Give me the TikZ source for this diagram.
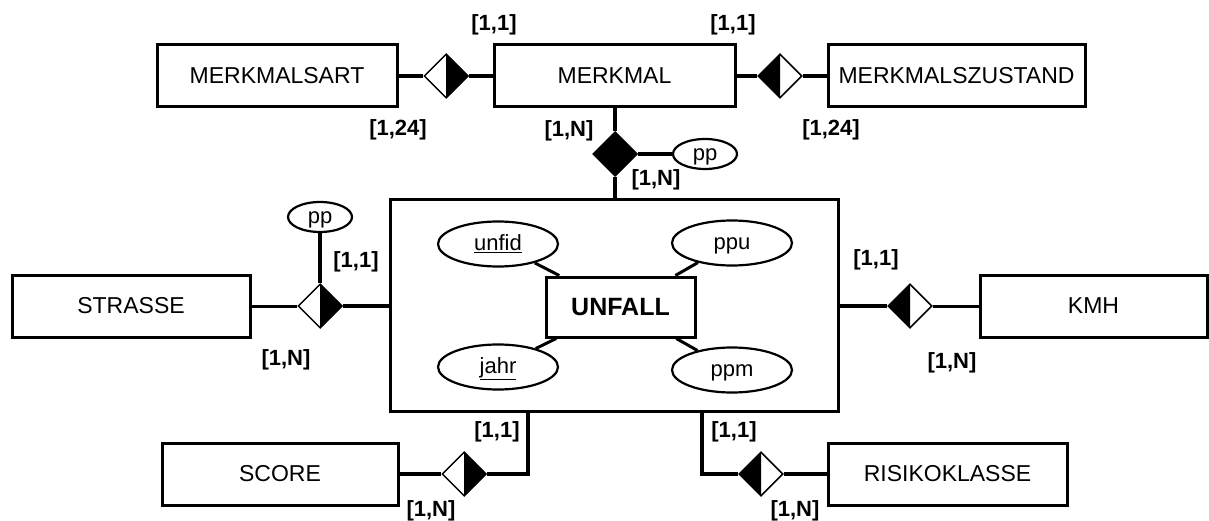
\documentclass[tikz,border=0pt]{standalone}
\usepackage{fontspec}
\setmainfont{Liberation Sans}
\usetikzlibrary{shapes.geometric}
\begin{document}
\begin{tikzpicture}[x=1pt,y=-1pt,
  ent/.style={draw, line width=3pt, minimum height=62pt, inner sep=0pt, font=\fontsize{23}{26}\selectfont},
  rel/.style={diamond, draw, line width=1.5pt, fill=white, minimum width=44pt, minimum height=44pt, inner sep=0pt, aspect=1},
  attr/.style={ellipse, draw, line width=2.2pt, minimum width=120pt, minimum height=45pt, inner sep=0pt, text height=16pt, text depth=3pt, font=\fontsize{22}{24}\selectfont},
  sattr/.style={ellipse, draw, line width=2.2pt, minimum width=64pt, minimum height=30pt, inner sep=0pt, text height=16pt, text depth=2pt, font=\fontsize{22}{24}\selectfont},
  card/.style={inner sep=0pt, font=\bfseries\fontsize{22}{24}\selectfont},
  thickc/.style={line width=4pt},
  thinc/.style={line width=3pt},
  innerc/.style={line width=3pt}
]
\useasboundingbox (0,0) rectangle (1209,521);
\fill[white] (0,0) rectangle (1209,521);

% big outer box
\node[draw, line width=3pt, minimum width=448pt, minimum height=211pt, inner sep=0pt] (big) at (614,305.5) {};

% entities
\node[ent, minimum width=240pt] (mart) at (277,76) {MERKMALSART};
\node[ent, minimum width=241pt] (merk) at (614.5,76) {MERKMAL};
\node[ent, minimum width=257pt] (mzus) at (956.5,76) {MERKMALSZUSTAND};
\node[ent, minimum width=238pt] (str) at (131,306) {STRASSE};
\node[ent, minimum width=227pt] (kmh) at (1093.5,306) {KMH};
\node[ent, minimum width=236pt] (score) at (280,474) {SCORE};
\node[ent, minimum width=239pt] (risk) at (947.5,474) {RISIKOKLASSE};
\node[draw, line width=3pt, minimum width=149pt, minimum height=60pt, inner sep=0pt, font=\bfseries\fontsize{25}{28}\selectfont] (unf) at (620.5,307) {UNFALL};

% attributes
\node[attr] (unfid) at (498,244) {\underline{unfid}};
\node[attr] (ppu) at (732,243) {ppu};
\node[attr] (jahr) at (498,367) {\underline{jahr}};
\node[attr] (ppm) at (732,370) {ppm};
\node[sattr] (pp1) at (705,154) {pp};
\node[sattr] (pp2) at (320,217) {pp};

\draw[innerc] (unfid) -- (unf);
\draw[innerc] (ppu) -- (unf);
\draw[innerc] (jahr) -- (unf);
\draw[innerc] (ppm) -- (unf);

% relationships
\node[rel] (d1) at (446,76) {};
\node[rel] (d2) at (780,76) {};
\node[rel] (d3) at (615,154) {};
\node[rel] (d4) at (320,306) {};
\node[rel] (d5) at (910,306) {};
\node[rel] (d6) at (464,474) {};
\node[rel] (d7) at (761,474) {};

% half / full fills
\fill (d1.north) -- (d1.east) -- (d1.south) -- cycle;
\fill (d2.north) -- (d2.west) -- (d2.south) -- cycle;
\fill (d3.north) -- (d3.east) -- (d3.south) -- (d3.west) -- cycle;
\fill (d4.north) -- (d4.east) -- (d4.south) -- cycle;
\fill (d5.north) -- (d5.west) -- (d5.south) -- cycle;
\fill (d6.north) -- (d6.east) -- (d6.south) -- cycle;
\fill (d7.north) -- (d7.west) -- (d7.south) -- cycle;

% connectors
\draw[thickc] (mart.east) -- (d1.west);
\draw[thickc] (d1.east) -- (merk.west);
\draw[thickc] (merk.east) -- (d2.west);
\draw[thickc] (d2.east) -- (mzus.west);
\draw[thickc] (merk.south -| d3.north) -- (d3.north);
\draw[thickc] (d3.south) -- (d3.south |- big.north);
\draw[thickc] (d3.east) -- (pp1.west);
\draw[thinc] (str.east) -- (d4.west);
\draw[thickc] (d4.east) -- (d4.east -| big.west);
\draw[thickc] (d4.north) -- (pp2.south);
\draw[thickc] (d5.west -| big.east) -- (d5.west);
\draw[thinc] (d5.east) -- (kmh.west);
\coordinate (c1) at (528,411);
\coordinate (c2) at (702,411);
\draw[thickc] (score.east) -- (d6.west);
\draw[thickc] (d6.east) -| (c1);
\draw[thickc] (c2) |- (d7.west);
\draw[thickc] (d7.east) -- (risk.west);

% cardinalities
\node[card] (l1) at (494,25) {[1,1]};
\node[card] (l2) at (398,130) {[1,24]};
\node[card] (l3) at (733,25) {[1,1]};
\node[card] (l4) at (831,130) {[1,24]};
\node[card] (l5) at (569,131) {[1,N]};
\node[card] (l6) at (656,180) {[1,N]};
\node[card] (l7) at (356,262) {[1,1]};
\node[card] (l8) at (286,360) {[1,N]};
\node[card] (l9) at (876,260) {[1,1]};
\node[card] (l10) at (952,363) {[1,N]};
\node[card] (l11) at (497,432) {[1,1]};
\node[card] (l12) at (431,511) {[1,N]};
\node[card] (l13) at (734,432) {[1,1]};
\node[card] (l14) at (795,511) {[1,N]};
\end{tikzpicture}
\end{document}
